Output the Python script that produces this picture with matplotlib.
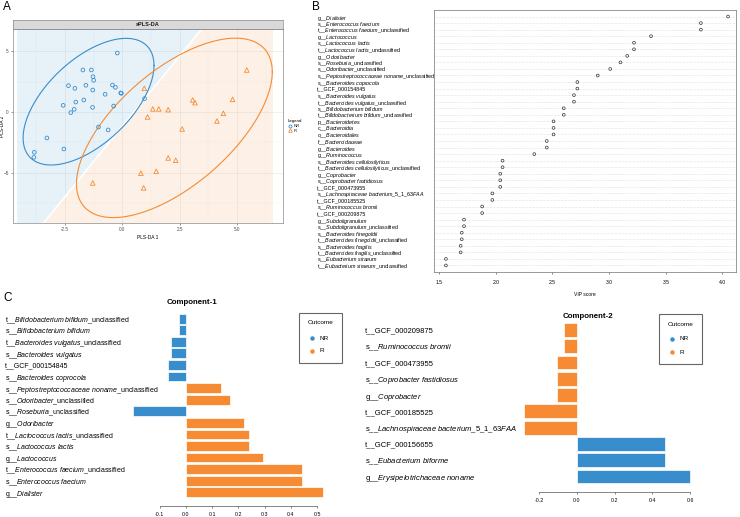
import numpy as np
import matplotlib
matplotlib.use("Agg")
import matplotlib.pyplot as plt
from matplotlib.lines import Line2D
from matplotlib.patches import Rectangle

plt.rcParams['font.family'] = ['Liberation Sans', 'DejaVu Sans']
plt.rcParams['mathtext.fontset'] = 'custom'
plt.rcParams['mathtext.it'] = 'Liberation Sans:italic'
plt.rcParams['mathtext.rm'] = 'Liberation Sans'

W, H = 740, 517
BLUE = '#388ECC'
ORANGE = '#F68B33'

# ── Panel A: sPLS-DA scores ─────────────────────────────────────
nr_x = [-0.22, -1.72, -1.35, -1.28, -1.25, -2.35, -2.07, -1.59, -0.43, -0.30,
        -0.07, -0.04, -1.29, -0.75, -2.58, -2.03, -1.68, -1.30, -0.38, -2.10,
        -2.25, -1.04, -0.62, -3.29, -3.84, -3.86, -2.55, 0.97]
nr_y = [4.86, 3.46, 3.46, 2.91, 2.61, 2.17, 1.95, 2.20, 2.22, 2.03,
        1.57, 1.54, 1.81, 1.46, 0.55, 0.82, 0.99, 0.38, 0.49, 0.22,
        -0.05, -1.24, -1.48, -2.14, -3.32, -3.74, -3.05, 1.10]
r_x = [5.43, 0.96, 3.07, 3.17, 4.81, 1.33, 1.59, 2.00, 1.10, 4.41,
       4.13, 2.61, 2.00, 2.33, 0.81, 1.48, 0.93, -1.29]
r_y = [3.46, 1.95, 0.99, 0.77, 1.04, 0.25, 0.25, 0.19, -0.41, -0.11,
       -0.74, -1.40, -3.79, -3.98, -5.05, -4.89, -6.26, -5.85]
# prediction background: class boundary end points (x at bottom / top of panel)
bound_x = [-3.44, 3.46]
bound_y = [-9.15, 6.84]
bg_x = [-4.59, 6.57]

# ── Panel B: VIP scores ─────────────────────────────────────────
vip_labels = [
    "g__Dialister", "s__Enterococcus faecium", "t__Enterococcus faecium_unclassified",
    "g__Lactococcus", "s__Lactococcus lactis", "t__Lactococcus lactis_unclassified",
    "g__Odoribacter", "s__Roseburia_unclassified", "s__Odoribacter_unclassified",
    "s__Peptostreptococcaceae noname_unclassified", "s__Bacteroides coprocola",
    "t__GCF_000154845", "s__Bacteroides vulgatus", "t__Bacteroides vulgatus_unclassified",
    "s__Bifidobacterium bifidum", "t__Bifidobacterium bifidum_unclassified",
    "p__Bacteroidetes", "c__Bacteroidia", "o__Bacteroidales", "f__Bacteroidaceae",
    "g__Bacteroides", "g__Ruminococcus", "s__Bacteroides cellulosilyticus",
    "t__Bacteroides cellulosilyticus_unclassified", "g__Coprobacter",
    "s__Coprobacter fastidiosus", "t__GCF_000473955",
    "s__Lachnospiraceae bacterium_5_1_63FAA", "t__GCF_000185525",
    "s__Ruminococcus bromii", "t__GCF_000209875", "g__Subdoligranulum",
    "s__Subdoligranulum_unclassified", "s__Bacteroides finegoldii",
    "t__Bacteroides finegoldii_unclassified", "s__Bacteroides fragilis",
    "t__Bacteroides fragilis_unclassified", "s__Eubacterium siraeum",
    "t__Eubacterium siraeum_unclassified"]
vip_scores = [4.05, 3.81, 3.81, 3.37, 3.22, 3.22, 3.16, 3.10, 3.01, 2.90,
              2.72, 2.72, 2.69, 2.69, 2.60, 2.60, 2.51, 2.51, 2.51, 2.45,
              2.45, 2.34, 2.06, 2.06, 2.04, 2.04, 2.04, 1.97, 1.97, 1.88,
              1.88, 1.72, 1.72, 1.70, 1.70, 1.69, 1.69, 1.56, 1.56]

# ── Panel C: loadings (top to bottom) ───────────────────────────
comp1_labels = [
    "t__Bifidobacterium bifidum_unclassified", "s__Bifidobacterium bifidum",
    "t__Bacteroides vulgatus_unclassified", "s__Bacteroides vulgatus",
    "t__GCF_000154845", "s__Bacteroides coprocola",
    "s__Peptostreptococcaceae noname_unclassified", "s__Odoribacter_unclassified",
    "s__Roseburia_unclassified", "g__Odoribacter",
    "t__Lactococcus lactis_unclassified", "s__Lactococcus lactis", "g__Lactococcus",
    "t__Enterococcus faecium_unclassified", "s__Enterococcus faecium", "g__Dialister"]
comp1_values = [-0.028, -0.028, -0.058, -0.058, -0.070, -0.070, 0.133, 0.169,
                -0.201, 0.222, 0.241, 0.241, 0.295, 0.442, 0.442, 0.522]
comp1_group = ['NR'] * 6 + ['R', 'R', 'NR'] + ['R'] * 7

comp2_labels = [
    "t__GCF_000209875", "s__Ruminococcus bromii", "t__GCF_000473955",
    "s__Coprobacter fastidiosus", "g__Coprobacter", "t__GCF_000185525",
    "s__Lachnospiraceae bacterium_5_1_63FAA", "t__GCF_000156655",
    "s__Eubacterium biforme", "g__Erysipelotrichaceae noname"]
comp2_values = [-0.069, -0.069, -0.106, -0.106, -0.106, -0.280, -0.280,
                0.465, 0.465, 0.598]
comp2_group = ['R'] * 7 + ['NR'] * 3

group_colors = {'NR': BLUE, 'R': ORANGE}

# F quantiles qf(0.95, 2, n-1) used by stat_ellipse (level 0.95);
# robust covariance comes out a bit tighter than np.cov, hence the shrink
F95 = {28: 3.354, 18: 3.592}
ROBUST_SHRINK = 0.95


def rect(x0, y0, x1, y1):
    return [x0 / W, 1 - y1 / H, (x1 - x0) / W, (y1 - y0) / H]


def fmt(lab):
    pre, rest = lab[:3], lab[3:]
    if rest.startswith('GCF'):
        return lab
    suf = ''
    if rest.endswith('_unclassified'):
        rest, suf = rest[:-13], '_unclassified'
    body = rest.replace('_', r'\_').replace(' ', r'\ ')
    return pre + r'$\mathit{' + body + '}$' + suf


def conf_ellipse(x, y, r, n=240):
    pts = np.column_stack([x, y])
    mu = pts.mean(axis=0)
    L = np.linalg.cholesky(np.cov(pts.T))
    t = np.linspace(0, 2 * np.pi, n)
    e = mu[:, None] + r * L @ np.vstack([np.cos(t), np.sin(t)])
    return e[0], e[1]


def outcome_legend(fig, x0, y0, x1, y1):
    fig.add_artist(Rectangle((x0 / W, 1 - y1 / H), (x1 - x0) / W, (y1 - y0) / H,
                             transform=fig.transFigure, fill=False,
                             edgecolor='#666666', lw=0.8))
    cx = (x0 + x1) / 2
    fig.text(cx / W, 1 - (y0 + 10) / H, "Outcome", ha='center', va='center', fontsize=4.6)
    for k, (g, c) in enumerate(group_colors.items()):
        yy = 1 - (y0 + 25 + 13 * k) / H
        fig.add_artist(Line2D([(x0 + 13) / W], [yy], marker='o', ms=2.2, color=c,
                              ls='none', transform=fig.transFigure))
        fig.text((x0 + 21) / W, yy, g, ha='left', va='center', fontsize=4.6)


def loading_panel(ax, labels, values, groups, ticks, label_x, label_size):
    pos = np.arange(len(labels))[::-1]
    ax.barh(pos, values, height=0.85, color=[group_colors[g] for g in groups],
            edgecolor='white', linewidth=0.5)
    for s in ['top', 'right', 'left']:
        ax.spines[s].set_visible(False)
    ax.spines['bottom'].set_bounds(ticks[0], ticks[-1])
    ax.spines['bottom'].set_color('#555555')
    ax.spines['bottom'].set_linewidth(0.5)
    ax.set_xticks(ticks)
    ax.set_xticklabels([f"{t:.1f}" for t in ticks])
    ax.tick_params(axis='x', length=1.5, width=0.5, color='#555555',
                   labelsize=3.8, pad=3)
    ax.set_yticks(pos)
    ax.set_yticklabels([fmt(l) for l in labels], fontsize=label_size)
    left_px = ax.get_position().x0 * W
    ax.tick_params(axis='y', length=0, pad=(left_px - label_x) * 0.72)
    for t in ax.get_yticklabels():
        t.set_ha('left')


fig = plt.figure(figsize=(7.4, 5.17), dpi=100)

# ── A ──
axA = fig.add_axes(rect(13, 29, 283, 223))
xlo, xhi, ylo, yhi = -4.77, 7.01, -9.15, 6.84
axA.set_xlim(xlo, xhi)
axA.set_ylim(ylo, yhi)
axA.fill([bg_x[0], bound_x[0], bound_x[1], bg_x[0]], [ylo, ylo, yhi, yhi],
         color=BLUE, alpha=0.12, lw=0, zorder=1)
axA.fill([bound_x[0], bg_x[1], bg_x[1], bound_x[1]], [ylo, ylo, yhi, yhi],
         color=ORANGE, alpha=0.12, lw=0, zorder=1)
axA.plot(bound_x, bound_y, color='white', lw=1.2, zorder=1.5)
for v in [-2.5, 0, 2.5, 5.0]:
    axA.axvline(v, color='#ebebeb', lw=0.5, zorder=0.5)
for v in [-3.75, -1.25, 1.25, 3.75, 6.25]:
    axA.axvline(v, color='#f2f2f2', lw=0.3, zorder=0.5)
for v in [-5, 0, 5]:
    axA.axhline(v, color='#ebebeb', lw=0.5, zorder=0.5)
for v in [-7.5, -2.5, 2.5]:
    axA.axhline(v, color='#f2f2f2', lw=0.3, zorder=0.5)
ex, ey = conf_ellipse(nr_x, nr_y, np.sqrt(2 * F95[28]) * ROBUST_SHRINK)
axA.plot(ex, ey, color=BLUE, lw=0.8, zorder=3)
ex, ey = conf_ellipse(r_x, r_y, np.sqrt(2 * F95[18]) * ROBUST_SHRINK)
axA.plot(ex, ey, color=ORANGE, lw=0.8, zorder=3)
axA.scatter(nr_x, nr_y, s=7, marker='o', facecolors='none', edgecolors=BLUE,
            linewidths=0.6, zorder=4)
axA.scatter(r_x, r_y, s=11, marker='^', facecolors='none', edgecolors=ORANGE,
            linewidths=0.6, zorder=4)
axA.set_xticks([-2.5, 0, 2.5, 5.0])
axA.set_xticklabels(['-2.5', '0.0', '2.5', '5.0'])
axA.set_yticks([-5, 0, 5])
axA.tick_params(labelsize=3.3, length=1.5, width=0.4, colors='#4d4d4d', pad=1.5)
for s in axA.spines.values():
    s.set_color('#8a8a8a')
    s.set_linewidth(0.5)
axA.set_xlabel("PLS-DA 1", fontsize=3.5, labelpad=2)
axA.set_ylabel("PLS-DA 2", fontsize=3.5)
axA.yaxis.set_label_coords(-0.03, 0.5)
strip = fig.add_axes(rect(13, 20, 283, 29))
strip.set_facecolor('#d9d9d9')
strip.set_xticks([])
strip.set_yticks([])
for s in strip.spines.values():
    s.set_color('#8a8a8a')
    s.set_linewidth(0.5)
strip.text(0.5, 0.5, "sPLS-DA", ha='center', va='center', fontsize=4,
           fontweight='bold', color='#1a1a1a', transform=strip.transAxes)
handles = [Line2D([], [], marker='o', ls='none', mfc='none', mec=BLUE, ms=2.2, mew=0.6),
           Line2D([], [], marker='^', ls='none', mfc='none', mec=ORANGE, ms=2.6, mew=0.6)]
axA.legend(handles, ['NR', 'R'], title='Legend', loc='center left',
           bbox_to_anchor=(1.005, 0.5), fontsize=3, title_fontsize=3.2,
           frameon=False, handlelength=1, handletextpad=0.3, labelspacing=0.2,
           alignment='left')

# ── B ──
axB = fig.add_axes(rect(434, 10, 736, 272))
n = len(vip_labels)
ypos = np.arange(n, 0, -1)
for y in ypos:
    axB.axhline(y, color='#c8c8c8', lw=0.4, ls=(0, (1, 1.5)), zorder=0)
axB.scatter(vip_scores, ypos, s=4, facecolors='none', edgecolors='#333333',
            linewidths=0.5, zorder=2)
axB.set_xlim(1.455, 4.12)
axB.set_ylim(0, n + 1)
axB.set_xticks([1.5, 2.0, 2.5, 3.0, 3.5, 4.0])
axB.set_xticklabels(['1.5', '2.0', '2.5', '3.0', '3.5', '4.0'])
axB.tick_params(axis='x', length=1.5, width=0.5, color='#555555', labelsize=3.6, pad=4)
axB.set_yticks(ypos)
axB.set_yticklabels([fmt(l) for l in vip_labels], fontsize=3.9)
axB.tick_params(axis='y', length=0, pad=(434 - 317) * 0.72)
for t in axB.get_yticklabels():
    t.set_ha('left')
for s in axB.spines.values():
    s.set_color('#888888')
    s.set_linewidth(0.6)
axB.set_xlabel("VIP score", fontsize=3.6, labelpad=5)

# ── C ──
axC1 = fig.add_axes(rect(120, 310, 330, 505.7))
axC1.set_xlim(-0.2519, 0.5496)
axC1.set_ylim(-1.158, 15.75)
loading_panel(axC1, comp1_labels, comp1_values, comp1_group,
              [-0.1, 0.0, 0.1, 0.2, 0.3, 0.4, 0.5], 5, 5.05)
fig.text(192 / W, 1 - 303 / H, "Component-1", ha='center', va='center',
         fontsize=5.7, fontweight='bold')
outcome_legend(fig, 299, 313, 342, 363)

axC2 = fig.add_axes(rect(510, 322, 705, 491.7))
axC2.set_xlim(-0.355, 0.679)
axC2.set_ylim(-0.93, 9.49)
loading_panel(axC2, comp2_labels, comp2_values, comp2_group,
              [-0.2, 0.0, 0.2, 0.4, 0.6], 365, 5.5)
fig.text(588 / W, 1 - 316 / H, "Component-2", ha='center', va='center',
         fontsize=5.7, fontweight='bold')
outcome_legend(fig, 659, 314, 702, 364)

# panel letters
for lab, x, y in [("A", 3, 1), ("B", 312, 1), ("C", 3, 292)]:
    fig.text(x / W, 1 - y / H, lab, ha='left', va='top', fontsize=8.5)

fig.savefig("out.png", dpi=100)
